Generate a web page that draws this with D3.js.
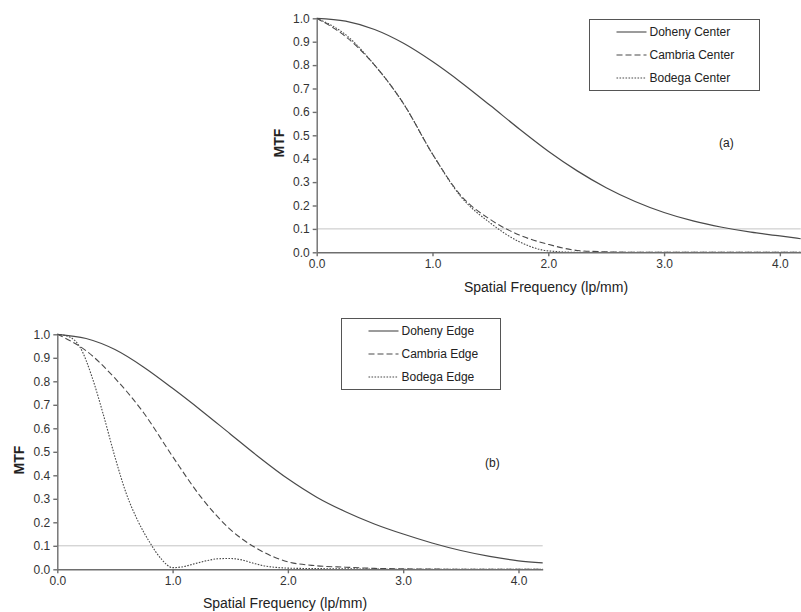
<!DOCTYPE html>
<html>
<head>
<meta charset="utf-8">
<script src="https://cdn.jsdelivr.net/npm/d3@7"></script>
<style>
  body { margin: 0; background: #fff; }
  svg { display: block; font-family: "Liberation Sans", Arial, sans-serif; }
  .axis path, .axis line { stroke: #6e6e6e; stroke-width: 1.4; }
  .axis text { font-size: 12px; fill: #333; }
</style>
</head>
<body>
<svg id="chart" width="801" height="612"></svg>
<script>
// spatial frequency (lp/mm) sample points
let freqCenter = [0, 0.25, 0.5, 0.75, 1.0, 1.25, 1.5, 1.75, 2.0, 2.25, 2.5, 2.75, 3.0, 3.25, 3.5, 3.75, 4.0, 4.18]
let freqEdge = [0, 0.25, 0.5, 0.75, 1.0, 1.25, 1.5, 1.75, 2.0, 2.25, 2.5, 2.75, 3.0, 3.25, 3.5, 3.75, 4.0, 4.21]
let freqBodegaEdge = [0, 0.1, 0.2, 0.3, 0.4, 0.5, 0.6, 0.7, 0.8, 0.9, 1.0, 1.1, 1.2, 1.3, 1.4, 1.5, 1.6, 1.7, 1.8, 1.9, 2.0, 2.25, 2.5, 2.75, 3.0, 3.5, 4.0, 4.21]

// (a) center MTF
let dohenyCenter = [1.0, 0.988, 0.952, 0.893, 0.815, 0.725, 0.627, 0.527, 0.432, 0.348, 0.276, 0.217, 0.17, 0.134, 0.107, 0.086, 0.07, 0.058]
let cambriaCenter = [1.0, 0.922, 0.80, 0.635, 0.42, 0.24, 0.14, 0.074, 0.034, 0.008, 0.002, 0, 0, 0, 0, 0, 0, 0]
let bodegaCenter = [1.0, 0.93, 0.80, 0.635, 0.42, 0.235, 0.125, 0.045, 0.006, 0, 0, 0, 0, 0, 0, 0, 0, 0]

// (b) edge MTF
let dohenyEdge = [1.0, 0.982, 0.935, 0.86, 0.77, 0.675, 0.576, 0.477, 0.385, 0.307, 0.245, 0.193, 0.15, 0.112, 0.08, 0.055, 0.036, 0.027]
let cambriaEdge = [1.0, 0.93, 0.813, 0.665, 0.48, 0.305, 0.17, 0.083, 0.032, 0.015, 0.009, 0.004, 0.002, 0.001, 0, 0, 0, 0]
let bodegaEdge = [1.0, 0.99, 0.943, 0.82, 0.657, 0.478, 0.32, 0.205, 0.116, 0.045, 0.007, 0.012, 0.025, 0.037, 0.045, 0.046, 0.04, 0.026, 0.014, 0.008, 0.005, 0.003, 0.002, 0.001, 0, 0, 0, 0]

let yTicks = [0, 0.1, 0.2, 0.3, 0.4, 0.5, 0.6, 0.7, 0.8, 0.9, 1.0]
let xTicks = [0, 1, 2, 3, 4]
let refLevel = 0.1

let svg = d3.select('#chart')

const dashFor = {
    solid: null,
    dashed: '6,3',
    dotted: '1.6,1.4'
}

const drawPanel = (opt) => {
    let x = d3.scaleLinear().domain([0, opt.xMax]).range([opt.left, opt.right])
    let y = d3.scaleLinear().domain([0, 1]).range([opt.bottom, opt.top])

    let g = svg.append('g')

    // 0.1 reference line
    g.append('line')
        .attr('x1', x(0))
        .attr('x2', x(opt.xMax))
        .attr('y1', y(refLevel))
        .attr('y2', y(refLevel))
        .attr('stroke', '#c4c4c4')
        .attr('stroke-width', 1)

    let line = d3.line()
        .x(d => x(d[0]))
        .y(d => y(d[1]))
        .curve(d3.curveMonotoneX)

    opt.series.forEach(s => {
        g.append('path')
            .datum(s.freq.map((f, i) => [f, s.values[i]]))
            .attr('d', line)
            .attr('fill', 'none')
            .attr('stroke', '#4a4a4a')
            .attr('stroke-width', s.style === 'solid' ? 1.2 : 1.1)
            .attr('stroke-dasharray', dashFor[s.style])
    })

    g.append('g')
        .attr('class', 'axis')
        .attr('transform', `translate(0, ${opt.bottom})`)
        .call(d3.axisBottom(x).tickValues(xTicks).tickFormat(d3.format('.1f')).tickSize(4).tickSizeOuter(0).tickPadding(3))

    g.append('g')
        .attr('class', 'axis')
        .attr('transform', `translate(${opt.left}, 0)`)
        .call(d3.axisLeft(y).tickValues(yTicks).tickFormat(d3.format('.1f')).tickSize(4).tickSizeOuter(0).tickPadding(3))

    g.selectAll('.domain').attr('stroke', '#6e6e6e')

    // axis titles
    g.append('text')
        .attr('x', opt.xTitleX)
        .attr('y', opt.xTitleY)
        .attr('text-anchor', 'middle')
        .attr('font-size', 14)
        .attr('fill', '#222')
        .text('Spatial Frequency (lp/mm)')

    g.append('text')
        .attr('transform', `translate(${opt.yTitleX}, ${opt.yTitleY}) rotate(-90)`)
        .attr('text-anchor', 'middle')
        .attr('font-size', 14)
        .attr('font-weight', 'bold')
        .attr('fill', '#222')
        .text('MTF')

    g.append('text')
        .attr('x', opt.tagX)
        .attr('y', opt.tagY)
        .attr('font-size', 12)
        .attr('fill', '#222')
        .text(opt.tag)

    // legend box
    let lg = g.append('g').attr('transform', `translate(${opt.legX}, ${opt.legY})`)
    lg.append('rect')
        .attr('x', 0)
        .attr('y', 0)
        .attr('width', opt.legW)
        .attr('height', 71)
        .attr('fill', '#fff')
        .attr('stroke', '#555')
        .attr('stroke-width', 1)

    opt.series.forEach((s, i) => {
        let ly = 12.5 + i * 23
        lg.append('line')
            .attr('x1', 27)
            .attr('x2', 57)
            .attr('y1', ly)
            .attr('y2', ly)
            .attr('stroke', '#4a4a4a')
            .attr('stroke-width', 1.1)
            .attr('stroke-dasharray', dashFor[s.style])
        lg.append('text')
            .attr('x', 60)
            .attr('y', ly + 4)
            .attr('font-size', 12)
            .attr('fill', '#222')
            .text(s.name)
    })
}

drawPanel({
    left: 316.7, right: 800.7, top: 18.3, bottom: 252.3, xMax: 4.18,
    xTitleX: 546, xTitleY: 292,
    yTitleX: 284, yTitleY: 143,
    tag: '(a)', tagX: 719, tagY: 147,
    legX: 589.5, legY: 19.5, legW: 170,
    series: [
        {name: 'Doheny Center', style: 'solid', freq: freqCenter, values: dohenyCenter},
        {name: 'Cambria Center', style: 'dashed', freq: freqCenter, values: cambriaCenter},
        {name: 'Bodega Center', style: 'dotted', freq: freqCenter, values: bodegaCenter}
    ]
})

drawPanel({
    left: 57.3, right: 542.7, top: 334.3, bottom: 569.3, xMax: 4.21,
    xTitleX: 285, xTitleY: 608,
    yTitleX: 24, yTitleY: 460,
    tag: '(b)', tagX: 485, tagY: 467,
    legX: 341.5, legY: 318.5, legW: 159,
    series: [
        {name: 'Doheny Edge', style: 'solid', freq: freqEdge, values: dohenyEdge},
        {name: 'Cambria Edge', style: 'dashed', freq: freqEdge, values: cambriaEdge},
        {name: 'Bodega Edge', style: 'dotted', freq: freqBodegaEdge, values: bodegaEdge}
    ]
})
</script>
</body>
</html>
